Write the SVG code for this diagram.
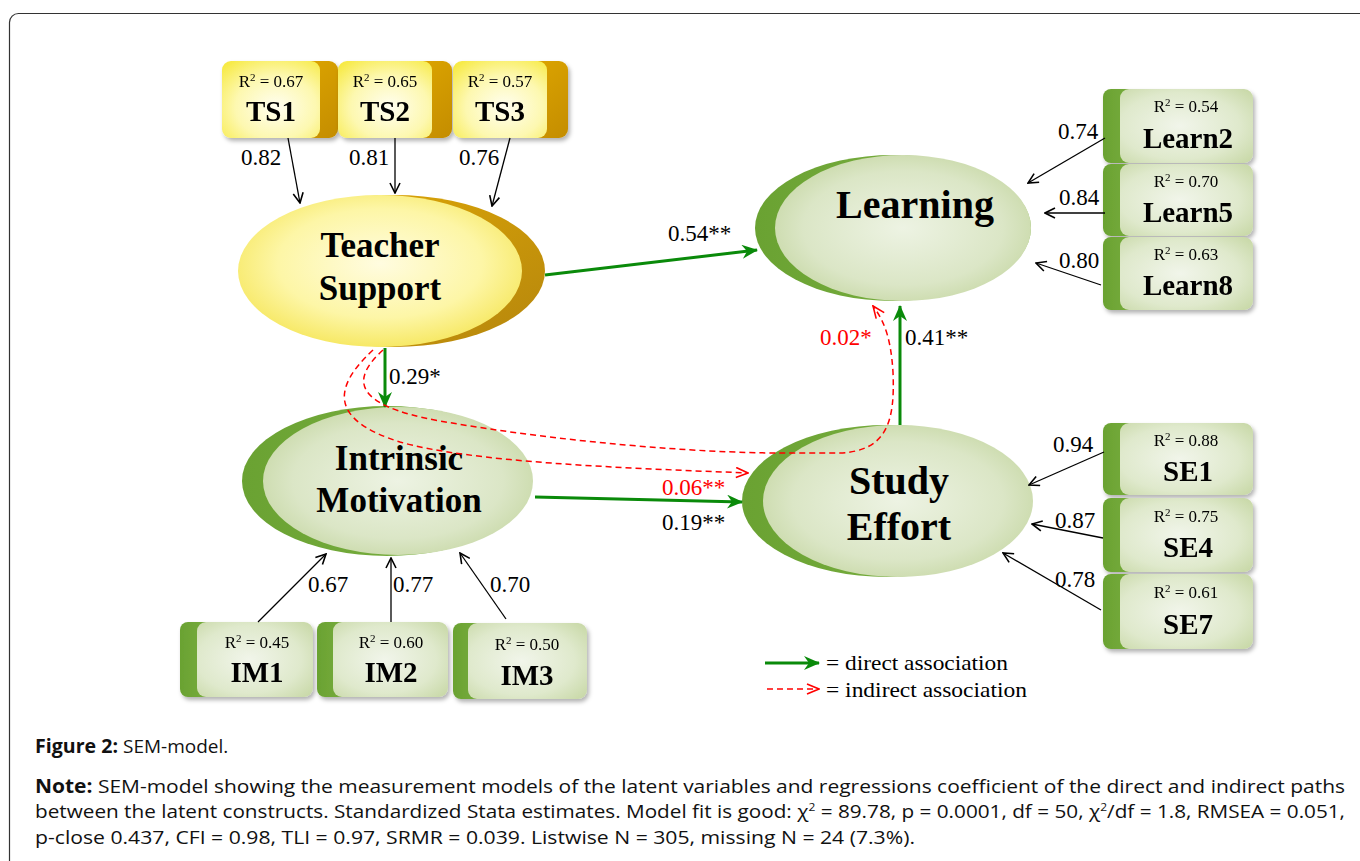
<svg xmlns="http://www.w3.org/2000/svg" width="1360" height="861" viewBox="0 0 1360 861">
<style>
.r2{font-family:"Liberation Serif",serif;font-size:17px;text-anchor:middle;fill:#000}
.lab{font-family:"Liberation Serif",serif;font-size:29px;font-weight:bold;text-anchor:middle;fill:#000}
.lat{font-family:"Liberation Serif",serif;font-weight:bold;text-anchor:middle;fill:#000}
.num{font-family:"Liberation Serif",serif;font-size:23px;fill:#000}
.red{fill:#ff0000}
.leg{font-family:"Liberation Serif",serif;font-size:21px;fill:#000}
.cap{font-family:"Open Sans",sans-serif;font-size:19px;fill:#111}
.blk{stroke:#000;stroke-width:1.3;fill:none;marker-end:url(#mBlack)}
.grn{stroke:#0a8a0a;stroke-width:3;fill:none;marker-end:url(#mGreen)}
.ind{stroke:#ff0000;stroke-width:1.5;stroke-dasharray:6 4;fill:none;marker-end:url(#mRed)}
.ybox{fill:url(#gYBox)}
.gside{fill:url(#gGold)}
.gbox{fill:url(#gGBox)}
.lside{fill:url(#gGreenSide)}
.shd{filter:url(#shadow)}
</style>
<defs>
<filter id="shadow" x="-20%" y="-20%" width="150%" height="150%">
<feDropShadow dx="2" dy="3" stdDeviation="2" flood-color="#000" flood-opacity="0.3"/>
</filter>
<radialGradient id="gYBox" cx="0.55" cy="0.6" r="0.75">
<stop offset="0" stop-color="#fffef0"/>
<stop offset="0.55" stop-color="#fdf8b0"/>
<stop offset="1" stop-color="#f7ea45"/>
</radialGradient>
<linearGradient id="gGold" x1="0" y1="0" x2="1" y2="1">
<stop offset="0" stop-color="#e6ae00"/>
<stop offset="1" stop-color="#c48d05"/>
</linearGradient>
<radialGradient id="gGBox" cx="0.45" cy="0.5" r="0.75">
<stop offset="0" stop-color="#f1f5ea"/>
<stop offset="0.6" stop-color="#dfe9cc"/>
<stop offset="1" stop-color="#c5d6a2"/>
</radialGradient>
<linearGradient id="gGreenSide" x1="0" y1="0" x2="1" y2="0">
<stop offset="0" stop-color="#6aa232"/>
<stop offset="1" stop-color="#86b84a"/>
</linearGradient>
<radialGradient id="gTSell" cx="0.5" cy="0.45" r="0.6">
<stop offset="0" stop-color="#fffce0"/>
<stop offset="0.6" stop-color="#fdf6a6"/>
<stop offset="1" stop-color="#f5e555"/>
</radialGradient>
<linearGradient id="gGoldEll" x1="0" y1="0" x2="1" y2="1">
<stop offset="0" stop-color="#e2aa05"/>
<stop offset="1" stop-color="#b5860d"/>
</linearGradient>
<radialGradient id="gGEll" cx="0.5" cy="0.5" r="0.6">
<stop offset="0" stop-color="#edf3e3"/>
<stop offset="0.65" stop-color="#dbe6c6"/>
<stop offset="1" stop-color="#c3d59f"/>
</radialGradient>
<linearGradient id="gGBack" x1="0" y1="0" x2="1" y2="0">
<stop offset="0" stop-color="#6aa232"/>
<stop offset="1" stop-color="#7fb446"/>
</linearGradient>
<marker id="mBlack" viewBox="0 0 12 12" refX="11" refY="6" markerWidth="12" markerHeight="12" markerUnits="userSpaceOnUse" orient="auto">
<path d="M1,1 L11,6 L1,11" fill="none" stroke="#000" stroke-width="1.6"/>
</marker>
<marker id="mGreen" viewBox="0 0 16 14" refX="15" refY="7" markerWidth="16" markerHeight="14" markerUnits="userSpaceOnUse" orient="auto">
<path d="M0,0 L16,7 L0,14 L5,7 z" fill="#0a8a0a"/>
</marker>
<marker id="mRed" viewBox="0 0 14 12" refX="13" refY="6" markerWidth="14" markerHeight="12" markerUnits="userSpaceOnUse" orient="auto">
<path d="M1,1 L13,6 L1,11" fill="none" stroke="#ff0000" stroke-width="1.6"/>
</marker>
</defs>

<rect x="9.5" y="13.5" width="1400" height="900" rx="9" fill="#fff" stroke="#333" stroke-width="1.2"/>

<!-- latent variables -->
<g id="TeacherSupport">
<ellipse cx="394" cy="271" rx="151" ry="76" fill="url(#gGoldEll)"/>
<ellipse cx="380" cy="271" rx="142" ry="76" fill="url(#gTSell)"/>
<text class="lat" x="380" y="257" font-size="35">Teacher</text>
<text class="lat" x="380" y="300" font-size="35">Support</text>
</g>
<g id="Learning">
<ellipse cx="893" cy="228" rx="138" ry="73" fill="url(#gGBack)"/>
<ellipse cx="903" cy="228" rx="128" ry="73" fill="url(#gGEll)"/>
<text class="lat" x="915" y="218" font-size="40">Learning</text>
</g>
<g id="IntrinsicMotivation">
<ellipse cx="387" cy="481" rx="145" ry="75" fill="url(#gGBack)"/>
<ellipse cx="398" cy="481" rx="135" ry="74" fill="url(#gGEll)"/>
<text class="lat" x="399" y="470" font-size="35">Intrinsic</text>
<text class="lat" x="399" y="512" font-size="35">Motivation</text>
</g>
<g id="StudyEffort">
<ellipse cx="887" cy="501" rx="145" ry="76" fill="url(#gGBack)"/>
<ellipse cx="898" cy="501" rx="135" ry="76" fill="url(#gGEll)"/>
<text class="lat" x="899" y="494" font-size="40">Study</text>
<text class="lat" x="899" y="540" font-size="40">Effort</text>
</g>

<!-- indicator boxes: Teacher Support -->
<g id="TS1" class="shd">
<rect class="gside" x="240" y="61" width="98" height="77" rx="9"/>
<rect class="ybox" x="222" y="61" width="98" height="77" rx="9"/>
<text class="r2" x="271" y="87">R<tspan font-size="11" dy="-6">2</tspan><tspan dy="6"> = 0.67</tspan></text>
<text class="lab" x="271" y="121">TS1</text>
</g>
<g id="TS2" class="shd">
<rect class="gside" x="356" y="61" width="96" height="77" rx="9"/>
<rect class="ybox" x="338" y="61" width="94" height="77" rx="9"/>
<text class="r2" x="385" y="87">R<tspan font-size="11" dy="-6">2</tspan><tspan dy="6"> = 0.65</tspan></text>
<text class="lab" x="385" y="121">TS2</text>
</g>
<g id="TS3" class="shd">
<rect class="gside" x="472" y="61" width="96" height="77" rx="9"/>
<rect class="ybox" x="453" y="61" width="94" height="77" rx="9"/>
<text class="r2" x="500" y="87">R<tspan font-size="11" dy="-6">2</tspan><tspan dy="6"> = 0.57</tspan></text>
<text class="lab" x="500" y="121">TS3</text>
</g>

<!-- Learning indicators -->
<g id="Learn2" class="shd">
<rect class="lside" x="1103" y="89" width="60" height="74" rx="8"/>
<rect class="gbox" x="1120" y="89" width="133" height="74" rx="9"/>
<text class="r2" x="1186" y="112">R<tspan font-size="11" dy="-6">2</tspan><tspan dy="6"> = 0.54</tspan></text>
<text class="lab" x="1188" y="148">Learn2</text>
</g>
<g id="Learn5" class="shd">
<rect class="lside" x="1103" y="164" width="60" height="72" rx="8"/>
<rect class="gbox" x="1120" y="164" width="133" height="72" rx="9"/>
<text class="r2" x="1186" y="187">R<tspan font-size="11" dy="-6">2</tspan><tspan dy="6"> = 0.70</tspan></text>
<text class="lab" x="1188" y="222">Learn5</text>
</g>
<g id="Learn8" class="shd">
<rect class="lside" x="1103" y="237" width="60" height="73" rx="8"/>
<rect class="gbox" x="1120" y="237" width="133" height="73" rx="9"/>
<text class="r2" x="1186" y="260">R<tspan font-size="11" dy="-6">2</tspan><tspan dy="6"> = 0.63</tspan></text>
<text class="lab" x="1188" y="295">Learn8</text>
</g>

<!-- Study Effort indicators -->
<g id="SE1" class="shd">
<rect class="lside" x="1103" y="423" width="60" height="72" rx="8"/>
<rect class="gbox" x="1120" y="423" width="133" height="72" rx="9"/>
<text class="r2" x="1186" y="446">R<tspan font-size="11" dy="-6">2</tspan><tspan dy="6"> = 0.88</tspan></text>
<text class="lab" x="1188" y="481">SE1</text>
</g>
<g id="SE4" class="shd">
<rect class="lside" x="1103" y="498" width="60" height="74" rx="8"/>
<rect class="gbox" x="1120" y="498" width="133" height="74" rx="9"/>
<text class="r2" x="1186" y="522">R<tspan font-size="11" dy="-6">2</tspan><tspan dy="6"> = 0.75</tspan></text>
<text class="lab" x="1188" y="557">SE4</text>
</g>
<g id="SE7" class="shd">
<rect class="lside" x="1103" y="574" width="60" height="75" rx="8"/>
<rect class="gbox" x="1120" y="574" width="133" height="75" rx="9"/>
<text class="r2" x="1186" y="598">R<tspan font-size="11" dy="-6">2</tspan><tspan dy="6"> = 0.61</tspan></text>
<text class="lab" x="1188" y="634">SE7</text>
</g>

<!-- Intrinsic Motivation indicators -->
<g id="IM1" class="shd">
<rect class="lside" x="180" y="622" width="60" height="75" rx="8"/>
<rect class="gbox" x="197" y="622" width="116" height="75" rx="9"/>
<text class="r2" x="257" y="648">R<tspan font-size="11" dy="-6">2</tspan><tspan dy="6"> = 0.45</tspan></text>
<text class="lab" x="257" y="682">IM1</text>
</g>
<g id="IM2" class="shd">
<rect class="lside" x="317" y="622" width="60" height="75" rx="8"/>
<rect class="gbox" x="333" y="622" width="115" height="75" rx="9"/>
<text class="r2" x="391" y="648">R<tspan font-size="11" dy="-6">2</tspan><tspan dy="6"> = 0.60</tspan></text>
<text class="lab" x="391" y="682">IM2</text>
</g>
<g id="IM3" class="shd">
<rect class="lside" x="453" y="623" width="60" height="76" rx="8"/>
<rect class="gbox" x="468" y="623" width="119" height="76" rx="9"/>
<text class="r2" x="527" y="650">R<tspan font-size="11" dy="-6">2</tspan><tspan dy="6"> = 0.50</tspan></text>
<text class="lab" x="527" y="685">IM3</text>
</g>

<!-- connectors -->
<g id="connectors">
<line class="blk" x1="288" y1="138" x2="300" y2="203"/>
<line class="blk" x1="395" y1="138" x2="395" y2="193"/>
<line class="blk" x1="510" y1="138" x2="492" y2="206"/>
<line class="blk" x1="1105" y1="138" x2="1028" y2="183"/>
<line class="blk" x1="1105" y1="213" x2="1045" y2="213"/>
<line class="blk" x1="1101" y1="285" x2="1036" y2="263"/>
<line class="blk" x1="1104" y1="452" x2="1029" y2="485"/>
<line class="blk" x1="1103" y1="538" x2="1032" y2="524"/>
<line class="blk" x1="1101" y1="610" x2="1003" y2="553"/>
<line class="blk" x1="258" y1="622" x2="326" y2="554"/>
<line class="blk" x1="391" y1="622" x2="391" y2="558"/>
<line class="blk" x1="506" y1="619" x2="460" y2="553"/>

<line class="grn" x1="545" y1="275" x2="757" y2="250"/>
<line class="grn" x1="385" y1="348" x2="385" y2="407"/>
<line class="grn" x1="535" y1="497" x2="742" y2="502"/>
<line class="grn" x1="900" y1="425" x2="900" y2="306"/>

<path class="ind" d="M373,350 C332,388 330,420 400,442 C470,462 620,468 748,473"/>
<path class="ind" d="M383,350 C352,378 350,405 440,421 C560,442 700,453 780,453 L840,453 C888,451 895,420 893,372 C891,340 885,322 873,306"/>

<g id="labels">
<text class="num" x="241" y="165">0.82</text>
<text class="num" x="349" y="165">0.81</text>
<text class="num" x="459" y="165">0.76</text>
<text class="num" x="1058" y="139">0.74</text>
<text class="num" x="1059" y="205">0.84</text>
<text class="num" x="1059" y="268">0.80</text>
<text class="num" x="1053" y="452">0.94</text>
<text class="num" x="1055" y="528">0.87</text>
<text class="num" x="1055" y="587">0.78</text>
<text class="num" x="308" y="592">0.67</text>
<text class="num" x="393" y="592">0.77</text>
<text class="num" x="490" y="592">0.70</text>
<text class="num" x="668" y="241">0.54**</text>
<text class="num" x="389" y="384">0.29*</text>
<text class="num" x="905" y="345">0.41**</text>
<text class="num red" x="820" y="345">0.02*</text>
<text class="num red" x="662" y="495">0.06**</text>
<text class="num" x="662" y="530">0.19**</text>
</g>
</g>

<!-- legend -->
<g id="legend">
<line class="grn" x1="765" y1="663" x2="819" y2="663"/>
<text class="leg" x="826" y="670" textLength="182" lengthAdjust="spacingAndGlyphs">= direct association</text>
<line class="ind" x1="767" y1="689" x2="819" y2="689"/>
<text class="leg" x="826" y="697" textLength="201" lengthAdjust="spacingAndGlyphs">= indirect association</text>
</g>

<!-- caption -->
<g id="caption">
<text class="cap" x="35" y="753" font-size="17.5" font-weight="bold" textLength="83" lengthAdjust="spacingAndGlyphs">Figure 2:</text>
<text class="cap" x="123" y="753" font-size="17.5">SEM-model.</text>
<text class="cap" x="35" y="793" textLength="1310" lengthAdjust="spacingAndGlyphs"><tspan font-weight="bold">Note:</tspan> SEM-model showing the measurement models of the latent variables and regressions coefficient of the direct and indirect paths</text>
<text class="cap" x="35" y="818" textLength="1310" lengthAdjust="spacingAndGlyphs">between the latent constructs. Standardized Stata estimates. Model fit is good: χ<tspan font-size="11" dy="-7">2</tspan><tspan dy="7"> = 89.78, p = 0.0001, df = 50, χ</tspan><tspan font-size="11" dy="-7">2</tspan><tspan dy="7">/df = 1.8, RMSEA = 0.051,</tspan></text>
<text class="cap" x="35" y="844" textLength="880" lengthAdjust="spacingAndGlyphs">p-close 0.437, CFI = 0.98, TLI = 0.97, SRMR = 0.039. Listwise N = 305, missing N = 24 (7.3%).</text>
</g>
</svg>
